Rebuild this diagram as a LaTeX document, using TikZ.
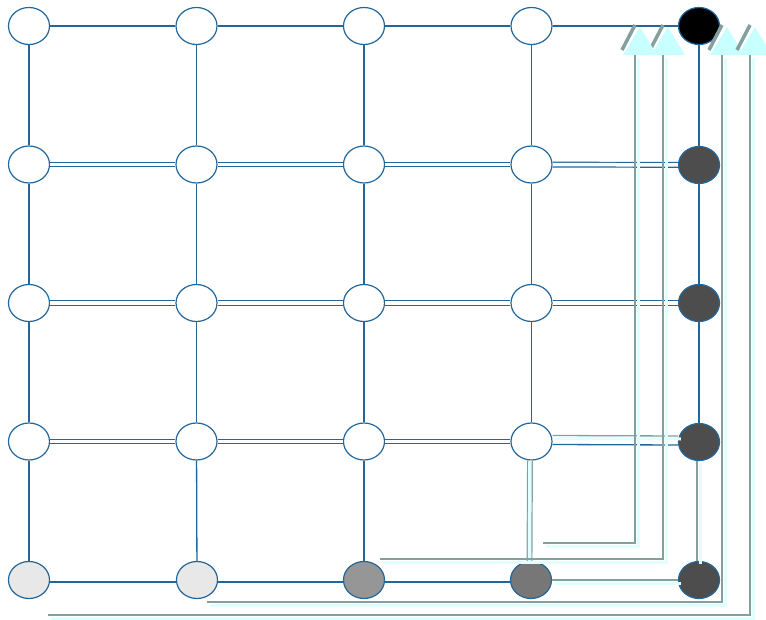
\documentclass[tikz,border=0pt]{standalone}
\usepackage{tikz}
\usetikzlibrary{shapes.geometric,positioning,calc}
\definecolor{linkblue}{HTML}{22669A}
\definecolor{routegray}{HTML}{84A09E}
\definecolor{routeglow}{HTML}{E2FFFF}
\definecolor{tipcyan}{HTML}{C8FFFF}
\definecolor{darkcell}{HTML}{4D4D4D}
\definecolor{midcell}{HTML}{777777}
\definecolor{softcell}{HTML}{969696}
\definecolor{palecell}{HTML}{E8E8E8}
\tikzset{
  cell/.style={ellipse,minimum width=41pt,minimum height=37pt,inner sep=0pt,
    draw=linkblue,fill=#1,line width=1.2pt},
  cell/.default={white},
  link/.style={draw=linkblue,line width=1.3pt},
  duallink/.style={draw=linkblue,line width=1.2pt,double=white,double distance=3.5pt},
  route/.style={draw=routegray,line width=1.3pt,
    preaction={draw=routeglow,line width=3pt,transform canvas={xshift=3pt,yshift=-3pt}}},
  dualroute/.style={draw=routegray,line width=1.2pt,double=routeglow,double distance=3.5pt},
  uptip/.pic={
    \fill[tipcyan] (-12,0) -- (5,-28) -- (22,0) -- cycle;
    \draw[routegray,line width=3.5pt] (-13,-5) -- (0,-30);
  },
}

\begin{document}
\begin{tikzpicture}[x=1pt,y=-1pt]
  \useasboundingbox[fill=white] (0,0) rectangle (766,620);
  % grid of cells
  \foreach \c in {0,...,3}
    \foreach \r in {0,...,3}
      \node[cell] (n\c\r) at (29+167.5*\c,26+138.5*\r) {};
  \node[cell=black] (n40) at (699,26) {};
  \node[cell=darkcell] (n41) at (699,165) {};
  \node[cell=darkcell] (n42) at (699,303) {};
  \node[cell=darkcell] (n43) at (699,442) {};
  \node[cell=darkcell] (n44) at (699,580) {};
  \node[cell=palecell] (n04) at (29,580) {};
  \node[cell=palecell] (n14) at (197,580) {};
  \node[cell=softcell] (n24) at (364,580) {};
  \node[cell=midcell] (n34) at (531,580) {};
  % links
  \foreach \c in {0,...,4}
    \foreach \r [count=\s] in {0,...,2}
      \draw[link] (n\c\r) -- (n\c\s);
  \foreach \c in {0,...,2}
    \draw[link] (n\c3) -- (n\c4);
  \foreach \c [count=\d] in {0,...,3} {
    \draw[link] (n\c0) -- (n\d0);
    \draw[duallink] (n\c1) -- (n\d1);
    \draw[duallink] (n\c2) -- (n\d2);
  }
  \foreach \c [count=\d] in {0,...,2} {
    \draw[duallink] (n\c3) -- (n\d3);
    \draw[link] ([yshift=-2pt]n\c4.east) -- ([yshift=-2pt]n\d4.west);
  }
  \draw[link] ([yshift=-3pt]n33.east) -- ([yshift=-3pt]n43.west);
  % routes
  \draw[route] ([yshift=6pt]n33.east) -- ([yshift=6pt]n43.west);
  \draw[dualroute] ([xshift=-1.5pt]n33.south) -- ([xshift=-1.5pt]n34.north);
  \draw[route] ([xshift=-2pt]n43.south) -- ([xshift=-2pt]n44.north);
  \draw[route] (n34) -- (n44);
  \coordinate (sA) at (380,559);
  \coordinate (tA) at (663,55);
  \coordinate (sB) at (543,543);
  \coordinate (tB) at (635,55);
  \coordinate (sC) at (207,602);
  \coordinate (tC) at (722,55);
  \coordinate (sD) at (48,615);
  \coordinate (tD) at (750,55);
  \draw[route] (sA) -| (tA);
  \draw[route] (sB) -| (tB);
  \draw[route] (sC) -| (tC);
  \draw[route] (sD) -| (tD);
  \foreach \t in {tA,tB,tC,tD}
    \pic at (\t) {uptip};
\end{tikzpicture}
\end{document}
